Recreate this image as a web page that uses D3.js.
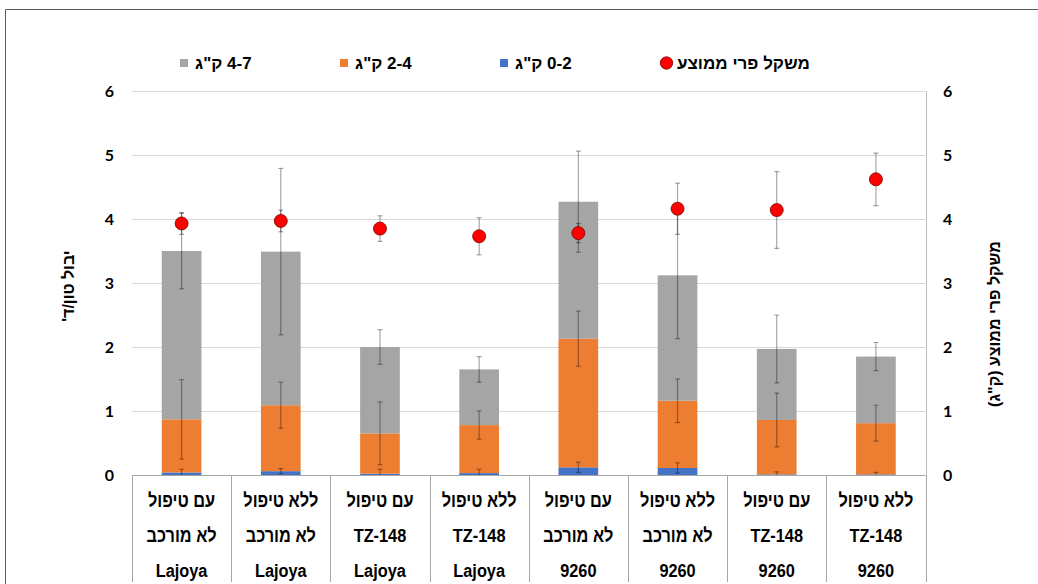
<!DOCTYPE html>
<html>
<head>
<meta charset="utf-8">
<script src="https://cdn.jsdelivr.net/npm/d3@7"></script>
<style>
html,body{margin:0;padding:0;background:#fff;}
svg{display:block;}
</style>
</head>
<body>
<svg id="chart" width="1038" height="584"></svg>
<script>
// ---------- DATA ----------
const categoryLine1 = ["עם טיפול","ללא טיפול","עם טיפול","ללא טיפול","עם טיפול","ללא טיפול","עם טיפול","ללא טיפול"];
const categoryLine2 = ["לא מורכב","לא מורכב","TZ-148","TZ-148","לא מורכב","לא מורכב","TZ-148","TZ-148"];
const categoryLine3 = ["Lajoya","Lajoya","Lajoya","Lajoya","9260","9260","9260","9260"];
const categories = categoryLine1.map((d,i)=>"c"+i);

const seriesNames = ["0-2 ק\"ג","2-4 ק\"ג","4-7 ק\"ג"];
const yield02 = [0.04, 0.06, 0.02, 0.03, 0.12, 0.11, 0.01, 0.01];
const yield24 = [0.83, 1.03, 0.63, 0.75, 2.01, 1.05, 0.85, 0.80];
const yield47 = [2.63, 2.40, 1.35, 0.87, 2.14, 1.96, 1.11, 1.04];
const err02 = [0.05, 0.04, 0.07, 0.06, 0.08, 0.08, 0.04, 0.03];
const err24 = [0.62, 0.36, 0.49, 0.22, 0.43, 0.34, 0.42, 0.28];
const err47 = [0.59, 1.30, 0.27, 0.20, 0.79, 0.99, 0.53, 0.22];

const weightName = "משקל פרי ממוצע";
const avgWeight = [3.93, 3.97, 3.85, 3.73, 3.78, 4.16, 4.14, 4.62];
const errWeight = [0.17, 0.17, 0.20, 0.29, 0.15, 0.40, 0.60, 0.41];

const yTicks = [0,1,2,3,4,5,6];
const leftTitle = "יבול טון/ד'";
const rightTitle = "משקל פרי ממוצע (ק\"ג)";

const colors = ["#4472c4","#ed7d31","#a5a5a5"];
const dotColor = "#ff0000";

// ---------- LAYOUT ----------
const svg = d3.select("#chart");
const plot = {left:132, right:925.5, top:91, bottom:475};

const x = d3.scaleBand().domain(categories).range([plot.left, plot.right])
  .paddingInner(0.6).paddingOuter(0.3);
const yL = d3.scaleLinear().domain([0,6]).range([plot.bottom, plot.top]);
const yR = d3.scaleLinear().domain([0,6]).range([plot.bottom, plot.top]);

// outer frame
svg.append("path").attr("d","M5.5,584 L5.5,9.5 L1038,9.5")
  .attr("fill","none").attr("stroke","#595959").attr("stroke-width",1);

// gridlines
svg.append("g").selectAll("line").data(yTicks.filter(t=>t>0)).join("line")
  .attr("x1",plot.left).attr("x2",plot.right)
  .attr("y1",d=>Math.round(yL(d))+0.5).attr("y2",d=>Math.round(yL(d))+0.5)
  .attr("stroke","#d9d9d9").attr("stroke-width",1);

// stacked bars
const errs = [err02, err24, err47];
const rows = categories.map((c,i)=>({cat:c, s0:yield02[i], s1:yield24[i], s2:yield47[i]}));
const stack = d3.stack().keys(["s0","s1","s2"])(rows);

svg.append("clipPath").attr("id","plotclip").append("rect")
  .attr("x",plot.left).attr("y",0).attr("width",plot.right-plot.left).attr("height",plot.bottom);

const gBars = svg.append("g");
stack.forEach((layer,k)=>{
  gBars.append("g").attr("fill",colors[k]).selectAll("rect").data(layer).join("rect")
    .attr("x",d=>x(d.data.cat)).attr("width",x.bandwidth())
    .attr("y",d=>yL(d[1])).attr("height",d=>yL(d[0])-yL(d[1]));
});

// error bars
const gErr = svg.append("g").attr("clip-path","url(#plotclip)")
  .attr("stroke","#000").attr("stroke-opacity",0.35).attr("stroke-width",1.2);
function errorBar(g, cx, val, e, scale){
  const y1 = scale(val+e), y2 = scale(val-e);
  g.append("line").attr("x1",cx).attr("x2",cx).attr("y1",y1).attr("y2",y2);
  g.append("line").attr("x1",cx-2.5).attr("x2",cx+2.5).attr("y1",y1).attr("y2",y1);
  g.append("line").attr("x1",cx-2.5).attr("x2",cx+2.5).attr("y1",y2).attr("y2",y2);
}
stack.forEach((layer,k)=>{
  layer.forEach((d,i)=>{
    errorBar(gErr, x(d.data.cat)+x.bandwidth()/2, d[1], errs[k][i], yL);
  });
});
categories.forEach((c,i)=>{
  errorBar(gErr, x(c)+x.bandwidth()/2, avgWeight[i], errWeight[i], yR);
});

// dots
svg.append("g").selectAll("circle").data(categories).join("circle")
  .attr("cx",c=>x(c)+x.bandwidth()/2).attr("cy",(c,i)=>yR(avgWeight[i]))
  .attr("r",6.5).attr("fill",dotColor).attr("stroke","#7a0000").attr("stroke-width",0.8);

// x axis line and category table
const step = x.step();
const bounds = d3.range(categories.length+1).map(i=>plot.left + i*step);
svg.append("line").attr("x1",plot.left).attr("x2",plot.right)
  .attr("y1",plot.bottom+0.5).attr("y2",plot.bottom+0.5)
  .attr("stroke","#a6a6a6").attr("stroke-width",1);
svg.append("g").selectAll("line").data(bounds).join("line")
  .attr("x1",d=>Math.round(d)+0.5).attr("x2",d=>Math.round(d)+0.5)
  .attr("y1",plot.bottom).attr("y2",582)
  .attr("stroke","#a6a6a6").attr("stroke-width",1);

// right axis line
svg.append("line").attr("x1",Math.round(plot.right)+0.5).attr("x2",Math.round(plot.right)+0.5)
  .attr("y1",plot.top).attr("y2",plot.bottom)
  .attr("stroke","#bfbfbf").attr("stroke-width",1);

// category labels (condensed look)
const catFont = "'Liberation Sans',Arial,sans-serif";
const catLines = [categoryLine1, categoryLine2, categoryLine3];
const lineY = [500, 535, 570];
catLines.forEach((lines,r)=>{
  svg.append("g").selectAll("text").data(categories).join("text")
    .attr("transform",c=>`translate(${x(c)+x.bandwidth()/2},${lineY[r]}) scale(0.86,1)`)
    .attr("dy","0.35em")
    .attr("text-anchor","middle").attr("direction","rtl")
    .style("font-family",catFont).style("font-weight","bold").style("font-size","19px")
    .style("fill","#000")
    .text((c,i)=>lines[i]);
});

// y axis tick labels
const numFont = "Lato,'Open Sans',sans-serif";
svg.append("g").selectAll("text").data(yTicks).join("text")
  .attr("x",114).attr("y",d=>yL(d)).attr("dy","0.35em").attr("text-anchor","end")
  .style("font-family",numFont).style("font-weight","bold").style("font-size","16px")
  .text(d=>d);
svg.append("g").selectAll("text").data(yTicks).join("text")
  .attr("x",943).attr("y",d=>yR(d)).attr("dy","0.35em").attr("text-anchor","start")
  .style("font-family",numFont).style("font-weight","bold").style("font-size","16px")
  .text(d=>d);

// axis titles
const hebFont = "'Liberation Sans',Arial,sans-serif";
svg.append("text").attr("transform","translate(68,286) rotate(-90)")
  .attr("text-anchor","middle").attr("dy","0.35em").attr("direction","rtl")
  .style("font-family",hebFont).style("font-weight","bold").style("font-size","16px")
  .text(leftTitle);
svg.append("text").attr("transform","translate(994,324) rotate(-90)")
  .attr("text-anchor","middle").attr("dy","0.35em").attr("direction","rtl")
  .style("font-family",hebFont).style("font-weight","bold").style("font-size","16px")
  .text(rightTitle);

// legend
const legendItems = [
  {label:seriesNames[2], color:colors[2], type:"rect", mx:180},
  {label:seriesNames[1], color:colors[1], type:"rect", mx:340},
  {label:seriesNames[0], color:colors[0], type:"rect", mx:500},
  {label:weightName, color:dotColor, type:"circle", mx:660}
];
const legY = 63;
legendItems.forEach(it=>{
  const g = svg.append("g");
  if(it.type==="rect"){
    g.append("rect").attr("x",it.mx).attr("y",legY-4).attr("width",8).attr("height",8).attr("fill",it.color);
  } else {
    g.append("circle").attr("cx",it.mx+6.5).attr("cy",legY).attr("r",6.2)
      .attr("fill",it.color).attr("stroke","#7a0000").attr("stroke-width",0.8);
  }
  const left = it.type==="rect" ? it.mx+15 : it.mx+17;
  const t = g.append("text").attr("y",legY).attr("dy","0.35em").attr("direction","rtl")
    .attr("text-anchor","middle")
    .style("font-family",hebFont).style("font-weight","bold").style("font-size","17px")
    .text(it.label);
  const w = t.node().getComputedTextLength();
  t.attr("x", left + w/2);
});
</script>
</body>
</html>
